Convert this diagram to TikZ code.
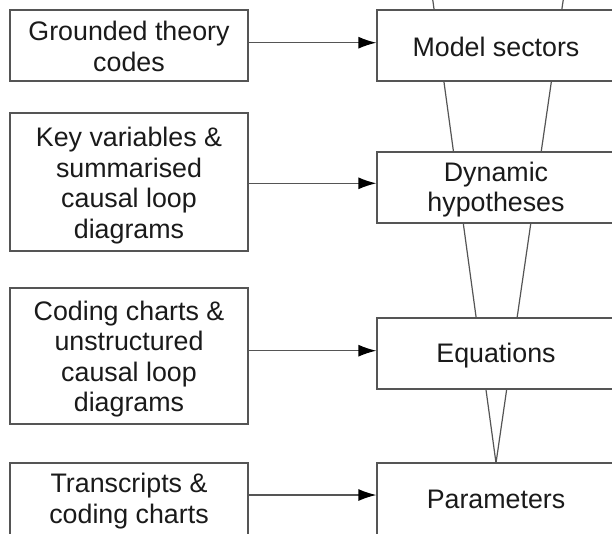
\documentclass[tikz,border=0pt]{standalone}
\usepackage{fontspec}
\setmainfont{Liberation Sans}
\usetikzlibrary{arrows.meta}
\definecolor{edgegray}{HTML}{555555}
\definecolor{txt}{HTML}{1A1A1A}
\tikzset{
  boxnode/.style={draw=edgegray, line width=1.3pt, fill=white, rectangle,
    minimum width=238pt, inner sep=0pt},
  boxtext/.style={align=center, text=txt, inner sep=0pt,
    font=\fontsize{26.8pt}{30.5pt}\selectfont},
  funnel/.style={draw=edgegray, line width=1.2pt},
  arr/.style={draw=edgegray, line width=1.3pt, -{Latex[length=18pt,width=12pt,color=black]}}
}
\begin{document}
\begin{tikzpicture}[x=1pt,y=-1pt]
\useasboundingbox (0,0) rectangle (612,533);
\clip (0,0) rectangle (612,533);
\fill[white] (0,0) rectangle (612,533);
% funnel
\coordinate (apex) at (496,463);
\coordinate (fl) at (432.5,-2);
\coordinate (fr) at (563.5,-2);
\draw[funnel] (fl) -- (apex) -- (fr);
% left boxes
\node[boxnode, minimum height=71pt, label={[boxtext, yshift=-1pt]center:{Grounded theory\\codes}}] (l1) at (129,45.5) {};
\node[boxnode, minimum height=138pt, label={[boxtext, yshift=-3.5pt]center:{Key variables \&\\summarised\\causal loop\\diagrams}}] (l2) at (129,182) {};
\node[boxnode, minimum height=136pt, label={[boxtext, yshift=-3pt]center:{Coding charts \&\\unstructured\\causal loop\\diagrams}}] (l3) at (129,356) {};
\node[boxnode, minimum height=78pt, label={[boxtext, yshift=1pt]center:{Transcripts \&\\coding charts}}] (l4) at (129,502) {};
% right boxes
\node[boxnode, minimum height=71pt, label={[boxtext, yshift=-1pt]center:{Model sectors}}] (r1) at (496,45.5) {};
\node[boxnode, minimum height=71pt, label={[boxtext, yshift=-2pt]center:{Dynamic\\hypotheses}}] (r2) at (496,187.5) {};
\node[boxnode, minimum height=71pt, label={[boxtext, yshift=-2pt]center:{Equations}}] (r3) at (496,353.5) {};
\node[boxnode, minimum height=78pt, label={[boxtext, yshift=3pt]center:{Parameters}}] (r4) at (496,502) {};
% arrows
\draw[arr] ([yshift=2.8pt]l1.east) -- ([yshift=2.8pt]l1.east -| r1.west);
\draw[arr] ([yshift=-1.3pt]l2.east) -- ([yshift=-1.3pt]l2.east -| r2.west);
\draw[arr] ([yshift=5.3pt]l3.east) -- ([yshift=5.3pt]l3.east -| r3.west);
\draw[arr] ([yshift=7pt]l4.east) -- ([yshift=7pt]l4.east -| r4.west);
\end{tikzpicture}
\end{document}
